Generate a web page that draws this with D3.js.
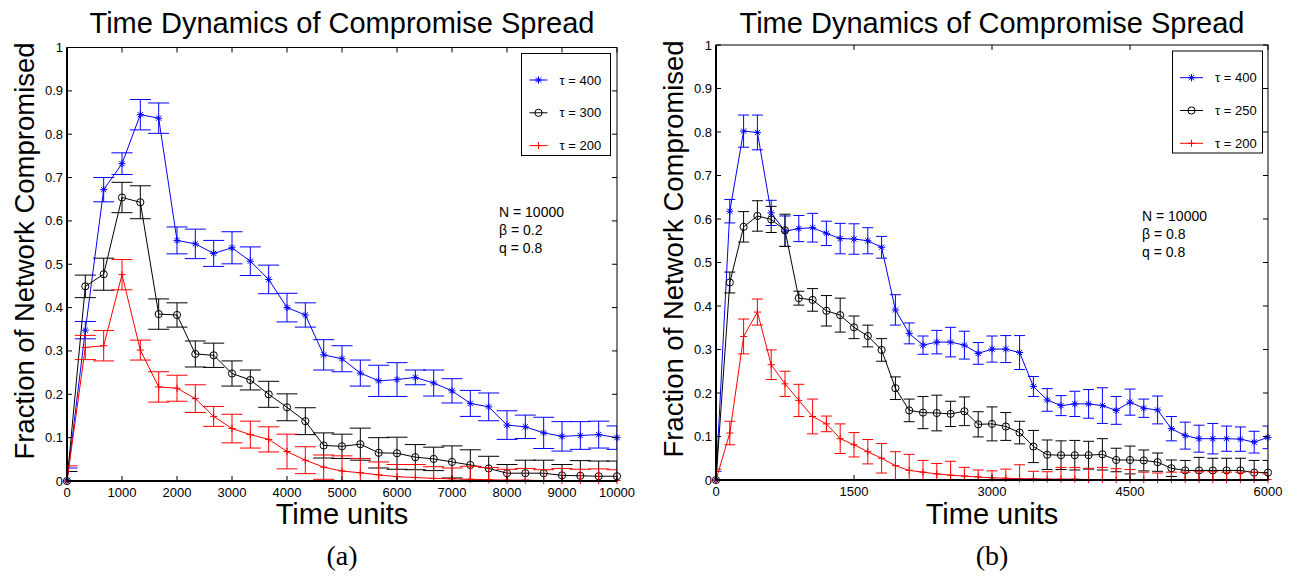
<!DOCTYPE html>
<html>
<head>
<meta charset="utf-8">
<script src="https://cdn.jsdelivr.net/npm/d3@7"></script>
<style>
body { margin: 0; background: #fff; }
svg text { font-family: "Liberation Sans", Arial, Helvetica, sans-serif; fill: #000; }
</style>
</head>
<body>
<svg id="chart" width="1294" height="577"></svg>
<script>
// ---------- panel (a) data, N = 10000, beta = 0.2, q = 0.8
var timesA = [0, 333, 667, 1000, 1333, 1667, 2000, 2333, 2667, 3000, 3333, 3667, 4000, 4333, 4667,
  5000, 5333, 5667, 6000, 6333, 6667, 7000, 7333, 7667, 8000, 8333, 8667, 9000, 9333, 9667, 10000];

var tau400A = [0, 0.348, 0.672, 0.732, 0.845, 0.837, 0.555, 0.547, 0.525, 0.538, 0.507, 0.465, 0.400, 0.383, 0.291,
  0.282, 0.249, 0.231, 0.234, 0.239, 0.226, 0.208, 0.179, 0.171, 0.129, 0.125, 0.111, 0.103, 0.105, 0.107, 0.100];
var tau400ErrA = [0.03, 0.02, 0.028, 0.025, 0.035, 0.035, 0.031, 0.034, 0.03, 0.037, 0.033, 0.033, 0.033, 0.028, 0.035,
  0.03, 0.03, 0.036, 0.039, 0.017, 0.03, 0.028, 0.03, 0.032, 0.033, 0.027, 0.036, 0.034, 0.032, 0.031, 0.027];

var tau300A = [0, 0.449, 0.477, 0.654, 0.643, 0.385, 0.383, 0.293, 0.290, 0.248, 0.233, 0.200, 0.170, 0.138, 0.082,
  0.080, 0.085, 0.065, 0.064, 0.055, 0.051, 0.044, 0.037, 0.029, 0.018, 0.018, 0.018, 0.013, 0.012, 0.011, 0.011];
var tau300ErrA = [0.022, 0.026, 0.037, 0.035, 0.038, 0.035, 0.028, 0.03, 0.028, 0.029, 0.023, 0.03, 0.031, 0.031, 0.029,
  0.028, 0.037, 0.035, 0.037, 0.029, 0.027, 0.037, 0.035, 0.028, 0.02, 0.03, 0.03, 0.025, 0.035, 0.035, 0.035];

var tau200A = [0, 0.308, 0.312, 0.476, 0.302, 0.217, 0.214, 0.190, 0.149, 0.121, 0.107, 0.096, 0.068, 0.048, 0.032,
  0.023, 0.019, 0.014, 0.010, 0.008, 0.006, 0.005, 0.004, 0.003, 0.002, 0.002, 0.001, 0.001, 0.001, 0.001, 0.001];
var tau200ErrA = [0.035, 0.028, 0.035, 0.035, 0.023, 0.035, 0.03, 0.032, 0.023, 0.033, 0.031, 0.029, 0.04, 0.031, 0.028,
  0.035, 0.033, 0.03, 0.028, 0.03, 0.027, 0.025, 0.03, 0.028, 0.025, 0.027, 0.025, 0.028, 0.026, 0.027, 0.025];

// ---------- panel (b) data, N = 10000, beta = 0.8, q = 0.8
var timesB = [0, 150, 300, 450, 600, 750, 900, 1050, 1200, 1350, 1500, 1650, 1800, 1950, 2100, 2250, 2400, 2550,
  2700, 2850, 3000, 3150, 3300, 3450, 3600, 3750, 3900, 4050, 4200, 4350, 4500, 4650, 4800, 4950, 5100, 5250,
  5400, 5550, 5700, 5850, 6000];

var tau400B = [0, 0.618, 0.802, 0.799, 0.614, 0.572, 0.578, 0.580, 0.567, 0.555, 0.554, 0.550, 0.535, 0.391, 0.337,
  0.310, 0.317, 0.317, 0.310, 0.291, 0.301, 0.301, 0.293, 0.215, 0.184, 0.171, 0.175, 0.175, 0.171, 0.160, 0.179,
  0.165, 0.161, 0.118, 0.102, 0.095, 0.095, 0.095, 0.094, 0.087, 0.098];
var tau400ErrB = [0.02, 0.027, 0.037, 0.04, 0.029, 0.035, 0.03, 0.033, 0.028, 0.035, 0.035, 0.03, 0.025, 0.035, 0.024,
  0.021, 0.027, 0.034, 0.032, 0.025, 0.03, 0.031, 0.039, 0.023, 0.026, 0.023, 0.029, 0.033, 0.041, 0.032, 0.03,
  0.021, 0.032, 0.028, 0.031, 0.031, 0.035, 0.029, 0.028, 0.025, 0.026];

var tau250B = [0, 0.454, 0.582, 0.607, 0.599, 0.574, 0.418, 0.414, 0.389, 0.379, 0.351, 0.331, 0.299, 0.211, 0.160,
  0.155, 0.154, 0.152, 0.158, 0.128, 0.129, 0.123, 0.109, 0.077, 0.058, 0.057, 0.057, 0.057, 0.059, 0.046, 0.046,
  0.045, 0.041, 0.027, 0.022, 0.022, 0.022, 0.022, 0.022, 0.017, 0.017];
var tau250ErrB = [0, 0.024, 0.035, 0.035, 0.03, 0.037, 0.016, 0.026, 0.035, 0.039, 0.026, 0.025, 0.026, 0.026, 0.026,
  0.037, 0.041, 0.029, 0.033, 0.029, 0.039, 0.032, 0.026, 0.037, 0.034, 0.033, 0.034, 0.032, 0.036, 0.027, 0.032,
  0.024, 0.021, 0.019, 0.023, 0.03, 0.028, 0.028, 0.028, 0.028, 0.028];

var tau200B = [0, 0.108, 0.330, 0.386, 0.265, 0.221, 0.183, 0.146, 0.129, 0.095, 0.081, 0.065, 0.050, 0.033, 0.022,
  0.018, 0.014, 0.011, 0.009, 0.007, 0.005, 0.004, 0.003, 0.003, 0.002, 0.002, 0.002, 0.001, 0.001, 0.001, 0.001,
  0.001, 0.001, 0.001, 0.001, 0.001, 0.001, 0.001, 0.001, 0.001, 0.001];
var tau200ErrB = [0.025, 0.027, 0.04, 0.03, 0.034, 0.029, 0.037, 0.04, 0.018, 0.034, 0.028, 0.028, 0.034, 0.032, 0.037,
  0.027, 0.024, 0.032, 0.02, 0.016, 0.016, 0.021, 0.032, 0.017, 0.017, 0.027, 0.027, 0.026, 0.028, 0.025, 0.023,
  0.017, 0.015, 0.017, 0.017, 0.018, 0.018, 0.017, 0.017, 0.017, 0.013];

// ---------- ticks and labels
var xTicksA = [0, 1000, 2000, 3000, 4000, 5000, 6000, 7000, 8000, 9000, 10000];
var xTicksB = [0, 1500, 3000, 4500, 6000];
var yTicks = [0, 0.1, 0.2, 0.3, 0.4, 0.5, 0.6, 0.7, 0.8, 0.9, 1];
var legendA = ['\u03c4 = 400', '\u03c4 = 300', '\u03c4 = 200'];
var legendB = ['\u03c4 = 400', '\u03c4 = 250', '\u03c4 = 200'];
var paramsA = ['N = 10000', '\u03b2 = 0.2', 'q = 0.8'];
var paramsB = ['N = 10000', '\u03b2 = 0.8', 'q = 0.8'];

var svg = d3.select('#chart');

function markerPath(kind, r) {
  var k = r * 0.72;
  if (kind == 'star')
    return 'M' + (-r) + ',0H' + r + 'M0,' + (-r) + 'V' + r +
      'M' + (-k) + ',' + (-k) + 'L' + k + ',' + k + 'M' + (-k) + ',' + k + 'L' + k + ',' + (-k);
  if (kind == 'plus')
    return 'M' + (-r) + ',0H' + r + 'M0,' + (-r) + 'V' + r;
  return null;
}

function drawMarker(g, kind, color) {
  if (kind == 'circle') {
    g.append('circle').attr('r', 3.6).attr('fill', 'none').attr('stroke', color).attr('stroke-width', 1);
  } else {
    g.append('path').attr('d', markerPath(kind, 3.6)).attr('fill', 'none')
      .attr('stroke', color).attr('stroke-width', 1);
  }
}

function drawPanel(p) {
  var x = d3.scaleLinear().domain([0, p.xMax]).range([p.left, p.right]);
  var y = d3.scaleLinear().domain([0, 1]).range([p.bottom, p.top]);

  var clipId = 'clip-' + p.id;
  svg.append('clipPath').attr('id', clipId)
    .append('rect')
      .attr('x', p.left).attr('y', p.top)
      .attr('width', p.right - p.left).attr('height', p.bottom - p.top);

  var panel = svg.append('g');

  // ----------
  // data: error bars, lines, markers
  p.series.forEach(function (s) {
    var pts = p.times.map(function (t, i) { return { t: t, m: s.mean[i], e: s.err[i] }; });
    var clipped = panel.append('g').attr('clip-path', 'url(#' + clipId + ')');

    clipped.append('g')
        .attr('stroke', s.color)
        .attr('stroke-width', 1)
        .attr('fill', 'none')
      .selectAll('path')
      .data(pts)
      .enter().append('path')
        .attr('d', function (d) {
          var cx = x(d.t), y0 = y(d.m - d.e), y1 = y(d.m + d.e);
          return 'M' + cx + ',' + y0 + 'V' + y1 +
            'M' + (cx - p.cap) + ',' + y1 + 'H' + (cx + p.cap) +
            'M' + (cx - p.cap) + ',' + y0 + 'H' + (cx + p.cap);
        });

    clipped.append('path')
      .datum(pts)
      .attr('fill', 'none')
      .attr('stroke', s.color)
      .attr('stroke-width', 1)
      .attr('d', d3.line().x(function (d) { return x(d.t); }).y(function (d) { return y(d.m); }));

    panel.append('g')
      .selectAll('g')
      .data(pts)
      .enter().append('g')
        .attr('transform', function (d) { return 'translate(' + x(d.t) + ',' + y(d.m) + ')'; })
        .each(function () { drawMarker(d3.select(this), s.marker, s.color); });
  });

  // ----------
  // Axes box, inward ticks, labels
  panel.append('rect')
    .attr('x', p.left).attr('y', p.top)
    .attr('width', p.right - p.left).attr('height', p.bottom - p.top)
    .attr('fill', 'none').attr('stroke', '#000').attr('stroke-width', 1);
  panel.append('path')
    .attr('d', 'M' + p.left + ',' + p.top + 'V' + p.bottom + 'H' + p.right)
    .attr('fill', 'none').attr('stroke', '#000').attr('stroke-width', 2);

  var ticks = panel.append('g').attr('stroke', '#000').attr('stroke-width', 1);
  p.xTicks.forEach(function (t) {
    ticks.append('path').attr('d', 'M' + x(t) + ',' + p.bottom + 'v-5M' + x(t) + ',' + p.top + 'v5');
    panel.append('text')
      .attr('x', x(t)).attr('y', p.bottom + 16)
      .attr('text-anchor', 'middle')
      .style('font-size', '13px')
      .text(t);
  });
  yTicks.forEach(function (t) {
    ticks.append('path').attr('d', 'M' + p.left + ',' + y(t) + 'h5M' + p.right + ',' + y(t) + 'h-5');
    panel.append('text')
      .attr('x', p.left - 4).attr('y', y(t) + 4.5)
      .attr('text-anchor', 'end')
      .style('font-size', '13px')
      .text(d3.format('~g')(t));
  });

  var cx = (p.left + p.right) / 2;
  panel.append('text')
    .attr('x', cx).attr('y', 33)
    .attr('text-anchor', 'middle')
    .style('font-size', '29px')
    .text('Time Dynamics of Compromise Spread');
  panel.append('text')
    .attr('x', cx).attr('y', 524)
    .attr('text-anchor', 'middle')
    .style('font-size', '29px')
    .text('Time units');
  panel.append('text')
    .attr('transform', 'translate(' + (p.left - 33) + ',' + p.labelMid + ') rotate(-90)')
    .attr('text-anchor', 'middle')
    .style('font-size', '27.5px')
    .text('Fraction of Network Compromised');
  panel.append('text')
    .attr('x', cx).attr('y', 565)
    .attr('text-anchor', 'middle')
    .style('font-family', '"Liberation Serif", "DejaVu Serif", serif')
    .style('font-size', '28px')
    .text(p.caption);

  // parameters
  p.params.forEach(function (line, i) {
    panel.append('text')
      .attr('x', p.paramsX).attr('y', p.paramsY + i * 18)
      .style('font-size', '14px')
      .text(line);
  });

  // legend
  var lg = panel.append('g');
  lg.append('rect')
    .attr('x', p.legend.x).attr('y', p.legend.y)
    .attr('width', p.legend.w).attr('height', p.legend.h)
    .attr('fill', '#fff').attr('stroke', '#000').attr('stroke-width', 1);
  p.series.forEach(function (s, i) {
    var ly = p.legend.y + p.legend.first + i * p.legend.step;
    var x0 = p.legend.x + p.legend.lineX0, x1 = x0 + p.legend.lineLen;
    lg.append('path').attr('d', 'M' + x0 + ',' + ly + 'H' + x1)
      .attr('stroke', s.color).attr('stroke-width', 1);
    drawMarker(lg.append('g').attr('transform', 'translate(' + ((x0 + x1) / 2) + ',' + ly + ')'), s.marker, s.color);
    lg.append('text')
      .attr('x', x1 + 12).attr('y', ly + 4.5)
      .style('font-size', '13px')
      .text(p.labels[i]);
  });
}

drawPanel({
  id: 'a', left: 67, right: 617, top: 47.5, bottom: 481, xMax: 10000, cap: 10.5, labelMid: 251,
  times: timesA, xTicks: xTicksA, labels: legendA, params: paramsA, caption: '(a)',
  paramsX: 499, paramsY: 217,
  legend: { x: 521.5, y: 53.5, w: 89, h: 102, first: 26.5, step: 32.8, lineX0: 8, lineLen: 18 },
  series: [
    { mean: tau400A, err: tau400ErrA, color: '#0000ff', marker: 'star' },
    { mean: tau300A, err: tau300ErrA, color: '#000000', marker: 'circle' },
    { mean: tau200A, err: tau200ErrA, color: '#ff0000', marker: 'plus' }
  ]
});

drawPanel({
  id: 'b', left: 716, right: 1268, top: 45, bottom: 480, xMax: 6000, cap: 5.5, labelMid: 249,
  times: timesB, xTicks: xTicksB, labels: legendB, params: paramsB, caption: '(b)',
  paramsX: 1142, paramsY: 221,
  legend: { x: 1172.5, y: 51, w: 90, h: 102, first: 26.7, step: 32.8, lineX0: 7.5, lineLen: 23 },
  series: [
    { mean: tau400B, err: tau400ErrB, color: '#0000ff', marker: 'star' },
    { mean: tau250B, err: tau250ErrB, color: '#000000', marker: 'circle' },
    { mean: tau200B, err: tau200ErrB, color: '#ff0000', marker: 'plus' }
  ]
});
</script>
</body>
</html>
